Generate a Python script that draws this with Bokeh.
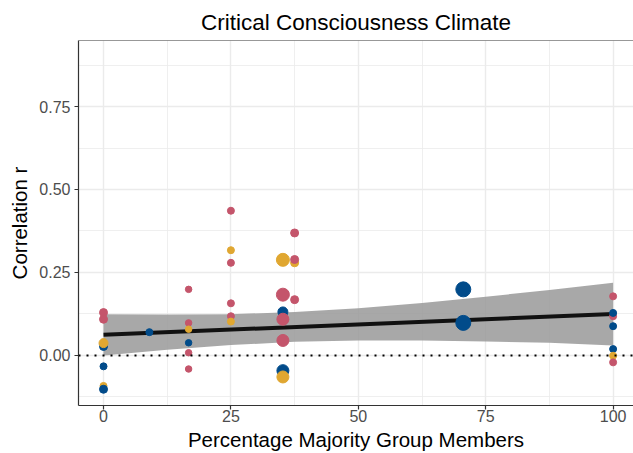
from bokeh.plotting import figure
from bokeh.models import FixedTicker, Span, ColumnDataSource, Range1d
from bokeh.embed import file_html
from bokeh.resources import INLINE

# ---- data ----
pct_majority = [0, 0, 0, 0, 0, 0, 0, 9,
                16.7, 16.7, 16.7, 16.7, 16.7, 16.7,
                25, 25, 25, 25, 25, 25,
                35.2, 35.2, 35.2, 35.2, 35.2, 35.2, 35.2,
                37.5, 37.5, 37.5, 37.5,
                70.6, 70.6,
                100, 100, 100, 100, 100, 100, 100]
corr_r = [0.129, 0.109, 0.027, 0.037, -0.033, -0.092, -0.102, 0.070,
          0.199, 0.098, 0.079, 0.038, 0.008, -0.041,
          0.436, 0.317, 0.279, 0.157, 0.118, 0.102,
          0.288, 0.183, 0.131, 0.109, 0.045, -0.046, -0.065,
          0.369, 0.279, 0.289, 0.168,
          0.199, 0.098,
          0.178, 0.118, 0.128, 0.088, 0.019, -0.001, -0.021]
group = ["red", "red", "blue", "gold", "blue", "gold", "blue", "blue",
         "red", "red", "gold", "blue", "red", "red",
         "red", "gold", "red", "red", "red", "gold",
         "gold", "red", "blue", "red", "red", "blue", "gold",
         "red", "gold", "red", "red",
         "blue", "blue",
         "red", "red", "blue", "blue", "blue", "gold", "red"]
point_size = [8, 8, 8, 9, 7, 7, 8, 7,
              6.5, 6.5, 6.5, 6.5, 6.5, 6.5,
              7, 7, 7, 7, 7, 7,
              13, 13, 10, 12, 12, 12, 12,
              8, 8, 8, 8,
              15, 15,
              7, 7, 7, 7, 7, 7, 7]
group_colors = {"blue": "#014B8A", "red": "#C4556B", "gold": "#E0A731"}

fit_x = [0, 100]
fit_y = [0.062, 0.125]

band_x = [0, 12.5, 25, 37.5, 50, 62.5, 75, 87.5, 100]
band_lower = [0.000, 0.017, 0.031, 0.041, 0.045, 0.045, 0.042, 0.038, 0.030]
band_upper = [0.124, 0.123, 0.124, 0.131, 0.142, 0.158, 0.177, 0.197, 0.219]

x_ticks = [0, 25, 50, 75, 100]
x_minor = [12.5, 37.5, 62.5, 87.5]
y_ticks = [0, 0.25, 0.5, 0.75]
y_tick_labels = ["0.00", "0.25", "0.50", "0.75"]
y_minor = [-0.125, 0.125, 0.375, 0.625, 0.875]

FONT = "Liberation Sans"
Y0, Y1 = -0.151, 0.949
X0, X1 = -4.91, 104.0

p = figure(width=633, height=453, output_backend="svg", toolbar_location=None,
           x_range=Range1d(X0, X1), y_range=Range1d(Y0, Y1),
           min_border_left=78, min_border_right=0, min_border_top=40,
           min_border_bottom=0,
           title="Critical Consciousness Climate")
p.outline_line_color = None
p.background_fill_color = "white"
p.border_fill_color = "white"

p.title.align = "center"
p.title.text_font = FONT
p.title.text_font_size = "22.5px"
p.title.text_font_style = "normal"
p.title.text_color = "black"
p.title.standoff = 12

for ax in (p.xaxis[0], p.yaxis[0]):
    ax.axis_line_color = "#333333"
    ax.axis_line_width = 1.2
    ax.major_tick_line_color = "#333333"
    ax.major_tick_line_width = 1.2
    ax.major_tick_out = 4
    ax.major_tick_in = 0
    ax.minor_tick_line_color = None
    ax.major_label_text_font = FONT
    ax.major_label_text_font_size = "16px"
    ax.major_label_text_color = "#4D4D4D"
    ax.axis_label_text_font = FONT
    ax.axis_label_text_font_size = "20.5px"
    ax.axis_label_text_font_style = "normal"
    ax.axis_label_text_color = "black"

p.xaxis.ticker = FixedTicker(ticks=x_ticks, minor_ticks=x_minor)
p.yaxis.ticker = FixedTicker(ticks=y_ticks, minor_ticks=y_minor)
p.yaxis.major_label_overrides = {t: l for t, l in zip(y_ticks, y_tick_labels)}
p.xaxis.axis_label = "Percentage Majority Group Members"
p.yaxis.axis_label = "Correlation r"
p.xaxis.major_label_standoff = 0
p.xaxis.axis_label_standoff = 3
p.yaxis.major_label_standoff = 4
p.yaxis.axis_label_standoff = 5

for g in (p.xgrid[0], p.ygrid[0]):
    g.grid_line_color = "#EBEBEB"
    g.grid_line_width = 1.4
    g.minor_grid_line_color = "#EBEBEB"
    g.minor_grid_line_width = 0.8

# top border of panel
p.add_layout(Span(location=Y1, dimension="width", line_color="#333333", line_width=1.2))

# dotted zero line
p.add_layout(Span(location=0, dimension="width", line_color="black", line_width=2,
                  line_dash="2 6"))

# confidence band and fit
p.varea(x=band_x, y1=band_lower, y2=band_upper, fill_color="#999999", fill_alpha=0.85)
p.line(x=fit_x, y=fit_y, line_color="#111111", line_width=4)

src = ColumnDataSource(dict(x=pct_majority, y=corr_r,
                            color=[group_colors[g] for g in group],
                            size=point_size))
p.scatter(x="x", y="y", size="size", fill_color="color", line_color="color",
          source=src)

open("out.html", "w").write(file_html(p, INLINE))
